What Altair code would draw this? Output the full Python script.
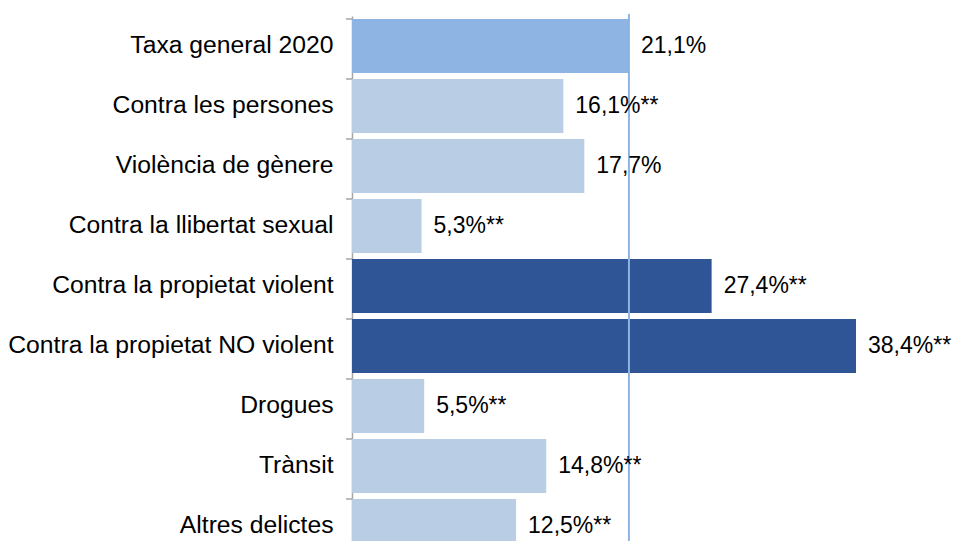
import altair as alt
import pandas as pd

categories = ["Taxa general 2020", "Contra les persones", "Violència de gènere",
              "Contra la llibertat sexual", "Contra la propietat violent",
              "Contra la propietat NO violent", "Drogues", "Trànsit", "Altres delictes"]
values = [21.1, 16.1, 17.7, 5.3, 27.4, 38.4, 5.5, 14.8, 12.5]
labels = ["21,1%", "16,1%**", "17,7%", "5,3%**", "27,4%**", "38,4%**", "5,5%**", "14,8%**", "12,5%**"]
groups = ["general", "light", "light", "light", "dark", "dark", "light", "light", "light"]
reference = 21.1

df = pd.DataFrame({"cat": categories, "val": values, "label": labels, "grp": groups})

FONT = "Liberation Sans"
yscale = alt.Scale(domain=categories, range=[0, 540], paddingInner=0.1, paddingOuter=0.05)
xscale = alt.Scale(domain=[0, 40])

base = alt.Chart(df)

bars = base.mark_bar().encode(
    y=alt.Y("cat:N", scale=yscale, sort=categories,
            axis=alt.Axis(title=None, ticks=False, domain=True, domainColor="#A6A6A6",
                          domainWidth=1.5, labelFont=FONT, labelFontSize=24.7,
                          labelColor="#000000", labelPadding=19, labelLimit=400)),
    x=alt.X("val:Q", scale=xscale, axis=None),
    color=alt.Color("grp:N", scale=alt.Scale(domain=["general", "light", "dark"],
                                             range=["#8EB4E3", "#B9CDE5", "#2F5597"]),
                    legend=None),
)

text = base.mark_text(align="left", baseline="middle", dx=12, font=FONT,
                      fontSize=23, color="#000000").encode(
    y=alt.Y("cat:N", scale=yscale, sort=categories),
    x=alt.X("val:Q", scale=xscale),
    text="label:N",
)

ticks = base.mark_rule(color="#A6A6A6", strokeWidth=1.5).encode(
    y=alt.Y("cat:N", scale=yscale, sort=categories, bandPosition=0),
    x=alt.value(-6),
    x2=alt.value(0),
)

ref = alt.Chart(pd.DataFrame({"r": [reference]})).mark_rule(
    color="#8EB4E3", strokeWidth=2).encode(
    x=alt.X("r:Q", scale=xscale),
    y=alt.value(-2),
    y2=alt.value(545),
)

chart = alt.layer(bars, ticks, ref, text).properties(
    width=525, height=525,
    autosize=alt.AutoSizeParams(type="none"),
    padding={"left": 344, "top": 8, "right": 76, "bottom": 0},
).configure_view(stroke=None)

chart.save("out.html", embed_options={"renderer": "svg", "actions": False})
